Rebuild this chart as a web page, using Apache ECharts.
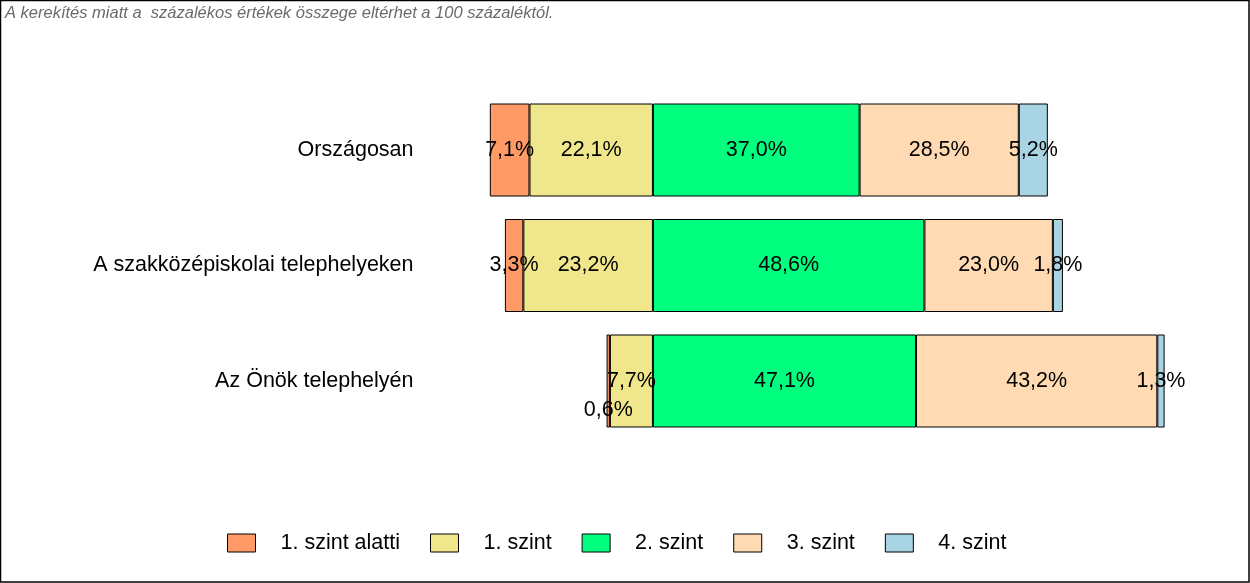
<!DOCTYPE html>
<html>
<head>
<meta charset="utf-8">
<script src="https://cdn.jsdelivr.net/npm/echarts@6/dist/echarts.min.js"></script>
<style>
html,body{margin:0;padding:0;background:#fff;}
#c{width:1250px;height:583px;}
</style>
</head>
<body>
<div id="c"></div>
<script>
const categories = ['Országosan', 'A szakközépiskolai telephelyeken', 'Az Önök telephelyén'];
const seriesNames = ['1. szint alatti', '1. szint', '2. szint', '3. szint', '4. szint'];
const below1 = [7.1, 3.3, 0.6];
const level1 = [22.1, 23.2, 7.7];
const level2 = [37.0, 48.6, 47.1];
const level3 = [28.5, 23.0, 43.2];
const level4 = [5.2, 1.8, 1.3];
const note = 'A kerekítés miatt a  százalékos értékek összege eltérhet a 100 százaléktól.';

const colors = {
  '1. szint alatti': '#FF9966',
  '1. szint': '#F0E68C',
  '2. szint': '#00FF7F',
  '3. szint': '#FFDAB3',
  '4. szint': '#A8D4E3'
};
const FONT = 'Liberation Sans, Arial, sans-serif';

function fmt(v) { return Math.abs(v).toFixed(1).replace('.', ',') + '%'; }

function makeSeries(name, values, sign) {
  return {
    name: name,
    type: 'bar',
    stack: 'total',
    barWidth: 93,
    itemStyle: { color: colors[name], borderColor: '#000', borderWidth: 1 },
    label: {
      show: true, position: 'inside', color: '#000', fontSize: 21.5, fontFamily: FONT,
      formatter: p => fmt(p.value)
    },
    emphasis: { disabled: true },
    data: values.map(v => {
      const d = { value: sign * v };
      if (v < 1) d.label = { offset: [0, 29] };
      return d;
    })
  };
}

const chart = echarts.init(document.getElementById('c'), null, { renderer: 'canvas' });
chart.setOption({
  animation: false,
  backgroundColor: '#fff',
  graphic: [
    { type: 'rect', shape: { x: 0.5, y: 0.5, width: 1248.5, height: 581.5 },
      style: { fill: 'none', stroke: '#000', lineWidth: 1.5 }, z: 100 },
    { type: 'text', left: 5, top: 5,
      style: { text: note, fill: '#6a6a6a', font: 'italic 16.5px ' + FONT } }
  ],
  grid: { left: 429.5, width: 782, top: 92.25, height: 346.5, containLabel: false },
  xAxis: { type: 'value', min: -40, max: 100, show: false },
  yAxis: {
    type: 'category', data: categories, inverse: true,
    axisLine: { show: false, onZero: false }, axisTick: { show: false },
    axisLabel: { color: '#000', fontSize: 21.5, fontFamily: FONT, margin: 16 }
  },
  legend: {
    data: seriesNames, left: 222, top: 527, itemWidth: 28, itemHeight: 18, itemGap: 30,
    icon: 'rect',
    itemStyle: { borderColor: '#000', borderWidth: 1 },
    textStyle: { color: '#000', fontSize: 21.5, fontFamily: FONT, padding: [0, 0, 0, 20] }
  },
  series: [
    makeSeries('1. szint', level1, -1),
    makeSeries('1. szint alatti', below1, -1),
    makeSeries('2. szint', level2, 1),
    makeSeries('3. szint', level3, 1),
    makeSeries('4. szint', level4, 1)
  ]
});
</script>
</body>
</html>
